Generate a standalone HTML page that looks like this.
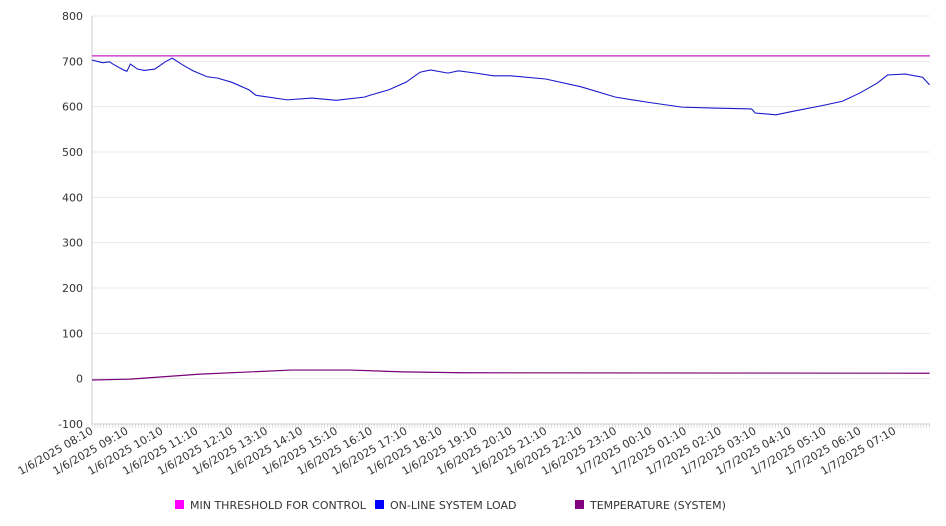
<!DOCTYPE html>
<html><head><meta charset="utf-8"><style>
body{margin:0;background:#fff;}
svg{display:block;font-family:"DejaVu Sans","Liberation Sans",sans-serif;}
</style></head><body>
<svg id="chart" width="946" height="526"></svg>
<script>
const yTicks=[-100,0,100,200,300,400,500,600,700,800];
const xLabels=["1/6/2025 08:10","1/6/2025 09:10","1/6/2025 10:10","1/6/2025 11:10","1/6/2025 12:10","1/6/2025 13:10","1/6/2025 14:10","1/6/2025 15:10","1/6/2025 16:10","1/6/2025 17:10","1/6/2025 18:10","1/6/2025 19:10","1/6/2025 20:10","1/6/2025 21:10","1/6/2025 22:10","1/6/2025 23:10","1/7/2025 00:10","1/7/2025 01:10","1/7/2025 02:10","1/7/2025 03:10","1/7/2025 04:10","1/7/2025 05:10","1/7/2025 06:10","1/7/2025 07:10"];
const thresholdValue=712;
const loadHours=[0,0.2,0.3,0.5,0.6,0.9,1.0,1.1,1.3,1.5,1.8,2.1,2.3,2.6,2.9,3.3,3.6,4.0,4.5,4.7,4.8,5.6,6.3,7.0,7.8,8.0,8.5,9.0,9.4,9.7,10.2,10.5,11.0,11.5,12.0,13.0,14.0,15.0,15.9,16.9,17.8,18.9,19.0,19.6,20.1,20.9,21.5,22.0,22.5,22.8,23.3,23.8,24.0];
const loadValues=[703,699,697,699,694,681,678,694,683,680,683,699,707,692,679,666,663,654,637,625,624,615,619,614,621,626,637,654,676,681,674,679,674,668,668,661,644,621,610,599,597,595,586,582,590,602,612,630,652,670,672,665,648];
const tempHours=[0,1.1,3.1,5.7,7.4,8.9,10.6,24];
const tempValues=[-3,-1,10,19,19,15,13,12];
const L=92,R=930,T=16,B=424,NS="http://www.w3.org/2000/svg";
const svg=document.getElementById('chart');
const yS=v=>T+(800-v)*(B-T)/900;
const xS=h=>L+h*34.9;
function mk(tag,at,parent){const e=document.createElementNS(NS,tag);for(const k in at)e.setAttribute(k,at[k]);(parent||svg).appendChild(e);return e;}
yTicks.forEach(v=>{
  const g=mk('line',{x1:L,x2:R,y1:yS(v),y2:yS(v),stroke:'#e8e8e8','stroke-width':1});
  
  
  const t=mk('text',{x:83,y:yS(v)+4,'text-anchor':'end','font-size':11,fill:'#333'});
  t.textContent=v;
  
  
});
const ax=mk('line',{x1:L,x2:L,y1:T,y2:B,stroke:'#ccc'});


const xa=mk('line',{x1:L,x2:R,y1:B,y2:B,stroke:'#ccc'});


for(let m=0;m<=24*60;m+=5){const x=xS(m/60);if(x>R)break;const tk=mk('line',{x1:x,x2:x,y1:B,y2:B+4,stroke:'#ccc','stroke-width':0.6});

}
xLabels.forEach((s,i)=>{
  const x=xS(i);
  const t=mk('text',{transform:`translate(${x+2},${B+9}) rotate(-30)`,'text-anchor':'end','font-size':11,fill:'#333'});
  t.textContent=s;
  
  
});
const th=mk('line',{x1:L,x2:R,y1:yS(thresholdValue),y2:yS(thresholdValue),stroke:'#cc22cc','stroke-width':1.2});


const lp=mk('polyline',{points:loadHours.map((h,i)=>xS(h)+','+yS(loadValues[i])).join(' '),fill:'none',stroke:'#1a1acc','stroke-width':1.1});


const tp=mk('polyline',{points:tempHours.map((h,i)=>Math.min(R,xS(h))+','+yS(tempValues[i])).join(' '),fill:'none',stroke:'#770077','stroke-width':1.2});


const leg=[["#ff00ff","MIN THRESHOLD FOR CONTROL",175],["#0000ff","ON-LINE SYSTEM LOAD",375],["#800080","TEMPERATURE (SYSTEM)",575]];
leg.forEach(l=>{
  const g=mk('g',{});
  
  
  mk('rect',{x:l[2],y:500,width:9,height:9,fill:l[0]},g);
  const t=mk('text',{x:l[2]+15,y:509,'font-size':11,fill:'#333'},g);
  t.textContent=l[1];
});
</script>
</body></html>
